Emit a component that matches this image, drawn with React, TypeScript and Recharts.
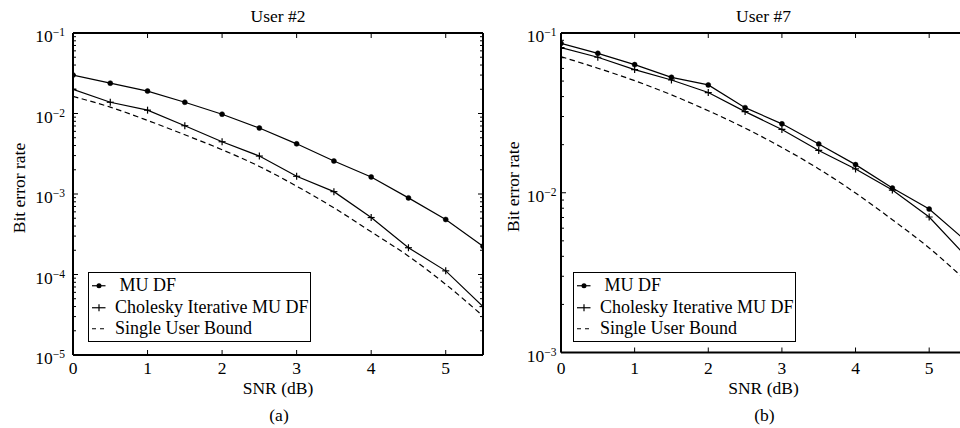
import React from 'react';
import { LineChart, Line, XAxis, YAxis, Legend } from 'recharts';

// ── data ─────────────────────────────────────────────────────────────
const snrDb = [0, 0.5, 1, 1.5, 2, 2.5, 3, 3.5, 4, 4.5, 5, 5.5];

const user2MuDf = [0.03, 0.0238, 0.019, 0.0138, 0.0098, 0.0066, 0.0042, 0.00257, 0.00163, 0.000895, 0.000482, 0.000225];
const user2Cholesky = [0.02, 0.0138, 0.011, 0.00705, 0.00446, 0.00296, 0.00166, 0.00107, 0.00051, 0.000215, 0.000111, 0.00004];
const user2Bound = [0.0163, 0.012, 0.0082, 0.00544, 0.00355, 0.0022, 0.00125, 0.000673, 0.000339, 0.000169, 0.0000754, 0.0000305];

const user7MuDf = [0.0862, 0.0746, 0.0634, 0.0528, 0.0473, 0.0341, 0.027, 0.0202, 0.015, 0.0107, 0.0079, 0.005];
const user7Cholesky = [0.081, 0.0705, 0.059, 0.0508, 0.0424, 0.0322, 0.0249, 0.0184, 0.0141, 0.0104, 0.00705, 0.004];
const user7Bound = [0.0711, 0.0602, 0.0503, 0.041, 0.0326, 0.0254, 0.0192, 0.0141, 0.00996, 0.00678, 0.00451, 0.00282];

const xTicks = [0, 1, 2, 3, 4, 5];
const user2Decades = [1e-5, 1e-4, 1e-3, 1e-2, 1e-1];
const user7Decades = [1e-3, 1e-2, 1e-1];
const minorSteps = [2, 3, 4, 5, 6, 7, 8, 9];

const seriesNames = ['MU DF', 'Cholesky Iterative MU DF', 'Single User Bound'];

// ── look ─────────────────────────────────────────────────────────────
const FONT = "'Liberation Serif', 'Times New Roman', serif";
const FS = 17.5;
const axisStroke = { stroke: '#000', strokeWidth: 2 };

const logTicks = (decades: number[]) => {
  const out: number[] = [];
  decades.forEach((d, i) => {
    out.push(d);
    if (i < decades.length - 1) minorSteps.forEach((m) => out.push(d * m));
  });
  return out;
};
const isDecade = (v: number) => Math.abs(Math.log10(v) - Math.round(Math.log10(v))) < 1e-6;

// ── ticks (inward, MATLAB style) ─────────────────────────────────────
const BottomTick = (props: any) => {
  const { x, y, payload, labelDy } = props;
  return (
    <g>
      <line x1={x} x2={x} y1={y} y2={y - 5} stroke="#000" strokeWidth={1} />
      <text x={x} y={y + labelDy} textAnchor="middle" fontFamily={FONT} fontSize={FS} fill="#000">
        {payload.value}
      </text>
    </g>
  );
};

const TopTick = (props: any) => {
  const { x, y } = props;
  return <line x1={x} x2={x} y1={y} y2={y + 5} stroke="#000" strokeWidth={1} />;
};

const LeftTick = (props: any) => {
  const { x, y, payload, gap } = props;
  const major = isDecade(payload.value);
  return (
    <g>
      <line x1={x} x2={x + (major ? 5 : 3)} y1={y} y2={y} stroke="#000" strokeWidth={1} />
      {major && (
        <text x={x - gap} y={y + 9} textAnchor="end" fontFamily={FONT} fontSize={FS} fill="#000">
          10
          <tspan dy={-6} fontSize={11.5}>
            {'\u2212' + Math.abs(Math.round(Math.log10(payload.value)))}
          </tspan>
        </text>
      )}
    </g>
  );
};

const RightTick = (props: any) => {
  const { x, y, payload } = props;
  const major = isDecade(payload.value);
  return <line x1={x} x2={x - (major ? 5 : 3)} y1={y} y2={y} stroke="#000" strokeWidth={1} />;
};

// ── labels ───────────────────────────────────────────────────────────
const TitleLabel = (props: any) => {
  const { viewBox, text } = props;
  return (
    <text x={viewBox.x + viewBox.width / 2} y={viewBox.y + 22} textAnchor="middle" fontFamily={FONT} fontSize={FS} fill="#000">
      {text}
    </text>
  );
};

const BottomLabels = (props: any) => {
  const { viewBox, caption } = props;
  const cx = viewBox.x + viewBox.width / 2;
  const bottom = viewBox.y + viewBox.height;
  return (
    <g>
      <text x={cx} y={bottom - 34} textAnchor="middle" fontFamily={FONT} fontSize={FS} fill="#000">
        SNR (dB)
      </text>
      <text x={cx + 1} y={bottom - 7} textAnchor="middle" fontFamily={FONT} fontSize={FS} fill="#000">
        {caption}
      </text>
    </g>
  );
};

const SideLabel = (props: any) => {
  const { viewBox, baseX } = props;
  const cy = viewBox.y + viewBox.height / 2 - 6;
  return (
    <text
      x={baseX}
      y={cy}
      transform={`rotate(-90 ${baseX} ${cy})`}
      textAnchor="middle"
      fontFamily={FONT}
      fontSize={FS}
      fill="#000"
    >
      Bit error rate
    </text>
  );
};

// ── markers + legend ─────────────────────────────────────────────────
const PlusDot = (props: any) => {
  const { cx, cy, index } = props;
  if (cx == null || cy == null) return <g key={`pd-${index}`} />;
  return (
    <g key={`pd-${index}`}>
      <line x1={cx - 3.5} x2={cx + 3.5} y1={cy} y2={cy} stroke="#000" strokeWidth={1.2} />
      <line x1={cx} x2={cx} y1={cy - 3.5} y2={cy + 3.5} stroke="#000" strokeWidth={1.2} />
    </g>
  );
};

const LegendBox = (props: any) => {
  // recharts does not keep JSX order here, so sort by our own list
  const entries = [...(props.payload ?? [])].sort(
    (a: any, b: any) => seriesNames.indexOf(a.value) - seriesNames.indexOf(b.value),
  );
  return (
    <div
      style={{
        border: '1px solid #000',
        background: '#fff',
        width: 223,
        height: 70,
        boxSizing: 'border-box',
        paddingTop: 2,
        fontFamily: FONT,
        fontSize: 18,
        color: '#000',
      }}
    >
      {entries.map((e: any) => (
        <div key={e.value} style={{ height: 21.5, display: 'flex', alignItems: 'center' }}>
          <svg width={26} height={21.5} style={{ flex: 'none' }}>
            <line
              x1={3}
              x2={16.5}
              y1={10.75}
              y2={10.75}
              stroke="#000"
              strokeWidth={1.2}
              strokeDasharray={e.dataKey === 'bound' ? '4 4' : undefined}
            />
            {e.dataKey === 'mudf' && <circle cx={10} cy={10.75} r={2.5} fill="#000" />}
            {e.dataKey === 'chol' && <line x1={10} x2={10} y1={7.25} y2={14.25} stroke="#000" strokeWidth={1.2} />}
          </svg>
          <span style={{ whiteSpace: 'pre', lineHeight: '21.5px' }}>{(e.dataKey === 'mudf' ? ' ' : '') + e.value}</span>
        </div>
      ))}
    </div>
  );
};

// ── one panel ────────────────────────────────────────────────────────
interface PanelCfg {
  title: string;
  caption: string;
  decades: number[];
  mudf: number[];
  chol: number[];
  bound: number[];
  left: number;
  width: number;
  yAxisWidth: number;
  bottomHeight: number;
  tickGap: number;
  xTickDy: number;
  yLabelX: number;
  legendLeft: number;
}

const Panel: React.FC<{ cfg: PanelCfg }> = ({ cfg }) => {
  const rows = snrDb.map((snr, i) => ({ snr, mudf: cfg.mudf[i], chol: cfg.chol[i], bound: cfg.bound[i] }));
  const yTicks = logTicks(cfg.decades);
  const yDomain = [cfg.decades[0], cfg.decades[cfg.decades.length - 1]];

  return (
    <div style={{ position: 'absolute', left: cfg.left, top: 0 }}>
      <LineChart width={cfg.width} height={428} data={rows} margin={{ top: 0, right: 0, bottom: 0, left: 0 }}>
        <XAxis
          xAxisId="b"
          dataKey="snr"
          type="number"
          domain={[0, 5.5]}
          allowDataOverflow
          ticks={xTicks}
          interval={0}
          height={cfg.bottomHeight}
          tickSize={0}
          tickMargin={0}
          tickLine={false}
          axisLine={axisStroke}
          tick={<BottomTick labelDy={cfg.xTickDy} />}
          label={<BottomLabels caption={cfg.caption} />}
        />
        <XAxis
          xAxisId="t"
          orientation="top"
          dataKey="snr"
          type="number"
          domain={[0, 5.5]}
          allowDataOverflow
          ticks={xTicks}
          interval={0}
          height={33}
          tickSize={0}
          tickMargin={0}
          tickLine={false}
          axisLine={axisStroke}
          tick={<TopTick />}
          label={<TitleLabel text={cfg.title} />}
        />
        <YAxis
          yAxisId="l"
          type="number"
          scale="log"
          domain={yDomain}
          allowDataOverflow
          ticks={yTicks}
          interval={0}
          width={cfg.yAxisWidth}
          tickSize={0}
          tickMargin={0}
          tickLine={false}
          axisLine={axisStroke}
          tick={<LeftTick gap={cfg.tickGap} />}
          label={<SideLabel baseX={cfg.yLabelX} />}
        />
        <YAxis
          yAxisId="r"
          orientation="right"
          type="number"
          scale="log"
          domain={yDomain}
          allowDataOverflow
          ticks={yTicks}
          interval={0}
          width={8}
          tickSize={0}
          tickMargin={0}
          tickLine={false}
          axisLine={axisStroke}
          tick={<RightTick />}
        />
        <Legend
          layout="vertical"
          align="center"
          verticalAlign="middle"
          wrapperStyle={{ left: cfg.legendLeft, top: 272, width: 223, height: 70 }}
          content={(p: any) => <LegendBox {...p} />}
        />
        <Line
          xAxisId="b"
          yAxisId="l"
          dataKey="mudf"
          name={seriesNames[0]}
          stroke="#000"
          strokeWidth={1.2}
          dot={{ r: 2.5, fill: '#000', stroke: '#000', strokeWidth: 0.5 }}
          isAnimationActive={false}
        />
        <Line
          xAxisId="b"
          yAxisId="l"
          dataKey="chol"
          name={seriesNames[1]}
          stroke="#000"
          strokeWidth={1.2}
          dot={PlusDot}
          isAnimationActive={false}
        />
        <Line
          xAxisId="b"
          yAxisId="l"
          type="monotone"
          dataKey="bound"
          name={seriesNames[2]}
          stroke="#000"
          strokeWidth={1.2}
          strokeDasharray="5.5 3.5"
          dot={false}
          isAnimationActive={false}
        />
      </LineChart>
    </div>
  );
};

const panelA: PanelCfg = {
  title: 'User #2',
  caption: '(a)',
  decades: user2Decades,
  mudf: user2MuDf,
  chol: user2Cholesky,
  bound: user2Bound,
  left: 0,
  width: 491,
  yAxisWidth: 73,
  bottomHeight: 73,
  tickGap: 8,
  xTickDy: 19,
  yLabelX: 24.5,
  legendLeft: 88,
};

const panelB: PanelCfg = {
  title: 'User #7',
  caption: '(b)',
  decades: user7Decades,
  mudf: user7MuDf,
  chol: user7Cholesky,
  bound: user7Bound,
  left: 480,
  width: 494,
  yAxisWidth: 81,
  bottomHeight: 75.5,
  tickGap: 4.5,
  xTickDy: 21.5,
  yLabelX: 38.5,
  legendLeft: 93,
};

export default function App() {
  return (
    <div
      style={{
        position: 'fixed',
        left: 0,
        top: 0,
        width: 960,
        height: 428,
        overflow: 'hidden',
        background: '#fff',
        fontFamily: FONT,
      }}
    >
      <Panel cfg={panelA} />
      <Panel cfg={panelB} />
    </div>
  );
}
